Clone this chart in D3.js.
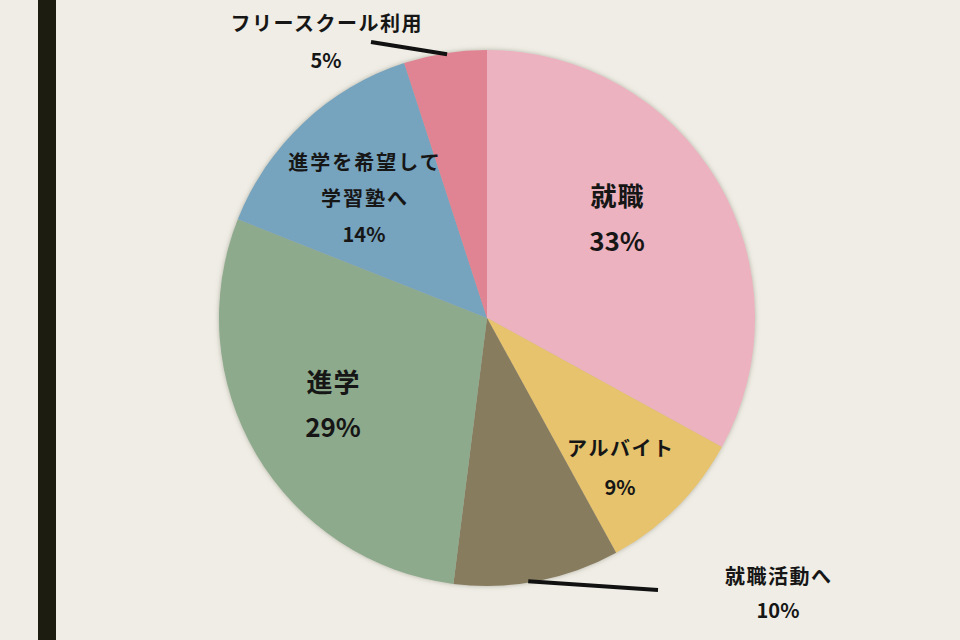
<!DOCTYPE html>
<html>
<head>
<meta charset="utf-8">
<script src="https://cdn.jsdelivr.net/npm/d3@7"></script>
<style>
  html, body { margin: 0; padding: 0; background: #efede5; }
  svg { display: block; }
  text { font-family: "Noto Sans CJK JP", "Noto Sans", sans-serif; fill: #161616; }
</style>
</head>
<body>
<div id="chart"></div>
<script>
const categories = ['就職', 'アルバイト', '就職活動へ', '進学', '進学を希望して\n学習塾へ', 'フリースクール利用'];
const values = [33, 9, 10, 29, 14, 5];
const colors = ['#edb2bf', '#e6c36c', '#887b5f', '#8daa8c', '#76a3bd', '#e08392'];

const width = 960, height = 640;
const cx = 487, cy = 318, radius = 268;

// label placement relative to the pie centre, kept apart from the data
const labelLayout = [
  { dx: 130, dy: -121, size: 26, gap: 45, ls: 1 },
  { dx: 133, dy: 131, size: 20, gap: 39, ls: 1.5 },
  { dx: 291, dy: 259, size: 20, gap: 34, ls: 1.5 },
  { dx: -154, dy: 65, size: 26, gap: 45, ls: 1 },
  { dx: -123, dy: -155, size: 20, gap: 36, ls: 2 },
  { dx: -161, dy: -294, size: 20, gap: 37, ls: 1.5 }
];
const leaders = { 2: [658, 590], 5: [371, 42] };

const svg = d3.select('#chart').append('svg')
  .attr('width', width)
  .attr('height', height);

svg.append('rect')
  .attr('width', width).attr('height', height)
  .attr('fill', '#efede5');

svg.append('rect')
  .attr('x', 38).attr('y', 0)
  .attr('width', 18).attr('height', height)
  .attr('fill', '#1c1c10');

const defs = svg.append('defs');
const filter = defs.append('filter').attr('id', 'soft')
  .attr('x', '-10%').attr('y', '-10%').attr('width', '120%').attr('height', '120%');
filter.append('feDropShadow')
  .attr('dx', 0).attr('dy', 0).attr('stdDeviation', 2.5)
  .attr('flood-color', '#8a8a7a').attr('flood-opacity', 0.6);

const data = categories.map((c, i) => ({ name: c, value: values[i], color: colors[i] }));

const pie = d3.pie().value(d => d.value).sort(null);
const arc = d3.arc().innerRadius(0).outerRadius(radius);
const edgeArc = d3.arc().innerRadius(radius).outerRadius(radius);

const g = svg.append('g').attr('transform', `translate(${cx},${cy})`);
const arcs = pie(data);

g.append('g').attr('filter', 'url(#soft)')
  .selectAll('path')
  .data(arcs)
  .join('path')
  .attr('d', arc)
  .attr('fill', d => d.data.color);

// leader lines for the small outside labels
arcs.forEach((a, i) => {
  if (!leaders[i]) return;
  const [sx, sy] = edgeArc.centroid(a);
  const start = i === 2 ? [sx - 9, sy] : [sx + 2, sy + 1];
  g.append('line')
    .attr('x1', start[0]).attr('y1', start[1])
    .attr('x2', leaders[i][0] - cx).attr('y2', leaders[i][1] - cy)
    .attr('stroke', '#111').attr('stroke-width', 4);
});

arcs.forEach((a, i) => {
  const lay = labelLayout[i];
  const names = a.data.name.split('\n');
  const lines = names.concat([a.data.value + '%']);
  const t = g.append('text')
    .attr('text-anchor', 'middle')
    .attr('font-size', lay.size)
    .attr('font-weight', 700);
  lines.forEach((ln, k) => {
    const isName = k < names.length;
    t.append('tspan')
      .attr('x', lay.dx + (isName ? lay.ls / 2 : 0))
      .attr('y', lay.dy + k * lay.gap)
      .attr('dy', '0.35em')
      .attr('letter-spacing', isName ? lay.ls : 0)
      .text(ln);
  });
});
</script>
</body>
</html>
